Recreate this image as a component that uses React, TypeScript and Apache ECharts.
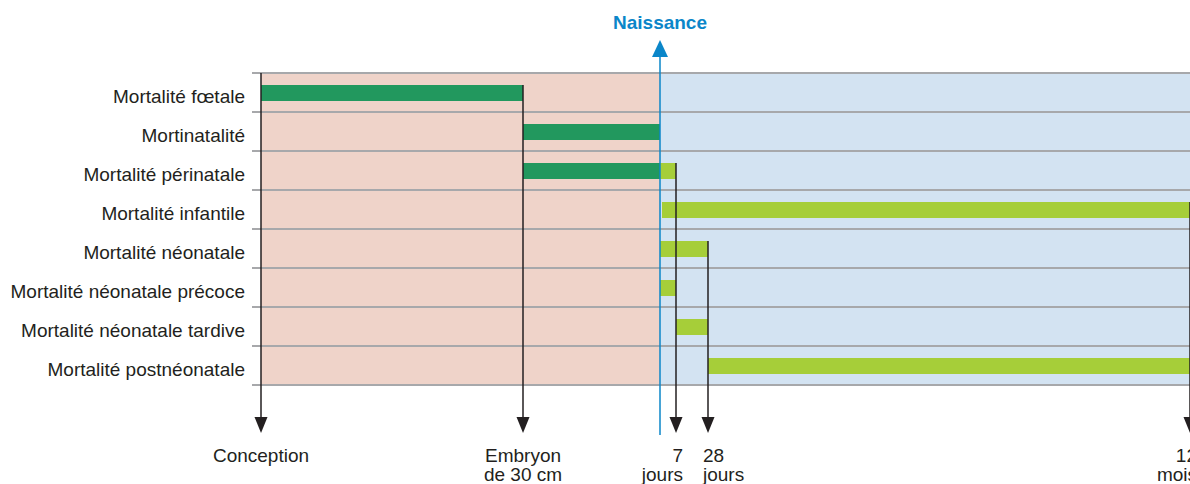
import React, { useEffect, useRef } from "react";
import * as echarts from "echarts";

// Row categories (top to bottom)
const categories = [
  "Mortalité fœtale",
  "Mortinatalité",
  "Mortalité périnatale",
  "Mortalité infantile",
  "Mortalité néonatale",
  "Mortalité néonatale précoce",
  "Mortalité néonatale tardive",
  "Mortalité postnéonatale",
];

// Schematic (not to scale) time axis positions
const milestoneNames = ["Conception", "Embryon\nde 30 cm", "7\njours", "28\njours", "12\nmois"];
const milestoneValues = [0, 262, 415, 447, 929];
const milestoneTopRow = [-1, 0, 2, 4, 3];
const birthLabel = "Naissance";
const birthValue = 399;
const axisMax = 929;

// Segments: row index, start, end, phase (0 = before birth, 1 = after birth)
const segRows = [0, 1, 2, 2, 3, 4, 5, 6, 7];
const segStart = [0, 262, 262, 399, 401, 399, 399, 415, 447];
const segEnd = [262, 399, 399, 415, 929, 447, 415, 447, 929];
const segPhase = [0, 0, 0, 1, 1, 1, 1, 1, 1];

const FONT = "'Liberation Sans', Arial, sans-serif";
const TEXT = "#231f20";
const GRIDLINE = "#a7a8ab";
const DARK = "#22985e";
const LIGHT = "#a6ce39";
const PINK = "#efd3c9";
const BLUE = "#d3e3f2";
const BIRTH = "#0b86c9";

export default function App() {
  const ref = useRef<HTMLDivElement>(null);
  useEffect(() => {
    if (!ref.current) return;
    const chart = echarts.init(ref.current, undefined, { renderer: "svg" });

    const segData = segRows.map((r, i) => [r, segStart[i], segEnd[i], segPhase[i]]);
    const bgData = [
      [0, birthValue, 0],
      [birthValue, axisMax, 1],
    ];
    const msData = milestoneValues.map((v, i) => [v, milestoneTopRow[i], i]);
    const aligns = ["center", "center", "right", "left", "right"];
    const offs = [0, 0, 7, -5, 7];

    chart.setOption({
      animation: false,
      grid: { left: 261, right: 0, top: 73, bottom: 99, containLabel: false },
      xAxis: {
        type: "value",
        min: 0,
        max: axisMax,
        show: false,
      },
      yAxis: {
        type: "category",
        data: categories,
        inverse: true,
        z: 2,
        axisLine: { show: false },
        axisTick: { show: true, length: 9, lineStyle: { color: GRIDLINE, width: 2 } },
        splitLine: { show: true, lineStyle: { color: GRIDLINE, width: 2 } },
        axisLabel: {
          color: TEXT,
          fontSize: 19,
          fontFamily: FONT,
          margin: 16,
          verticalAlign: "top",
          lineHeight: 7,
        },
      },
      series: [
        {
          type: "custom",
          z: 1,
          data: bgData,
          encode: { x: [0, 1] },
          renderItem: (params: any, api: any) => {
            const cs = params.coordSys;
            const a = api.coord([api.value(0), 0])[0];
            const b = api.coord([api.value(1), 0])[0];
            return {
              type: "rect",
              shape: { x: a, y: cs.y, width: b - a, height: cs.height },
              style: { fill: api.value(2) === 0 ? PINK : BLUE },
            };
          },
        },
        {
          type: "custom",
          z: 3,
          data: segData,
          encode: { x: [1, 2], y: 0 },
          renderItem: (params: any, api: any) => {
            const row = api.value(0);
            const s = api.coord([api.value(1), row]);
            const e = api.coord([api.value(2), row]);
            return {
              type: "rect",
              shape: { x: s[0], y: s[1] - 7.5, width: e[0] - s[0], height: 16 },
              style: { fill: api.value(3) === 0 ? DARK : LIGHT },
            };
          },
        },
        {
          type: "custom",
          z: 4,
          clip: false,
          data: msData,
          encode: { x: 0 },
          renderItem: (params: any, api: any) => {
            const cs = params.coordSys;
            const idx = api.value(2);
            const topRow = api.value(1);
            const x = api.coord([api.value(0), 0])[0];
            const top = topRow < 0 ? cs.y : api.coord([0, topRow])[1] - 7.5;
            const bottom = cs.y + cs.height;
            const headTop = bottom + 32;
            return {
              type: "group",
              children: [
                {
                  type: "line",
                  shape: { x1: x, y1: top, x2: x, y2: headTop + 4 },
                  style: { stroke: TEXT, lineWidth: 1.5 },
                },
                {
                  type: "polygon",
                  shape: { points: [[x - 6.5, headTop], [x + 6.5, headTop], [x, headTop + 16]] },
                  style: { fill: TEXT },
                },
                {
                  type: "text",
                  x: x + offs[idx],
                  y: bottom + 61,
                  style: {
                    text: milestoneNames[idx],
                    fill: TEXT,
                    font: `19px ${FONT}`,
                    align: aligns[idx],
                    verticalAlign: "top",
                    lineHeight: 19,
                  },
                },
              ],
            };
          },
        },
        {
          type: "custom",
          z: 5,
          clip: false,
          data: [[birthValue]],
          encode: { x: 0 },
          renderItem: (params: any, api: any) => {
            const cs = params.coordSys;
            const x = api.coord([api.value(0), 0])[0];
            const bottom = cs.y + cs.height;
            return {
              type: "group",
              children: [
                {
                  type: "line",
                  shape: { x1: x, y1: 52, x2: x, y2: bottom + 50 },
                  style: { stroke: BIRTH, lineWidth: 1.5 },
                },
                {
                  type: "polygon",
                  shape: { points: [[x - 8, 57], [x + 8, 57], [x, 40]] },
                  style: { fill: BIRTH },
                },
                {
                  type: "text",
                  x: x,
                  y: 22,
                  style: {
                    text: birthLabel,
                    fill: BIRTH,
                    font: `bold 19px ${FONT}`,
                    align: "center",
                    verticalAlign: "middle",
                  },
                },
              ],
            };
          },
        },
      ],
    });
    return () => chart.dispose();
  }, []);
  return (
    <div
      ref={ref}
      style={{ position: "fixed", left: 0, top: 0, width: 1190, height: 484, background: "#fff" }}
    />
  );
}
